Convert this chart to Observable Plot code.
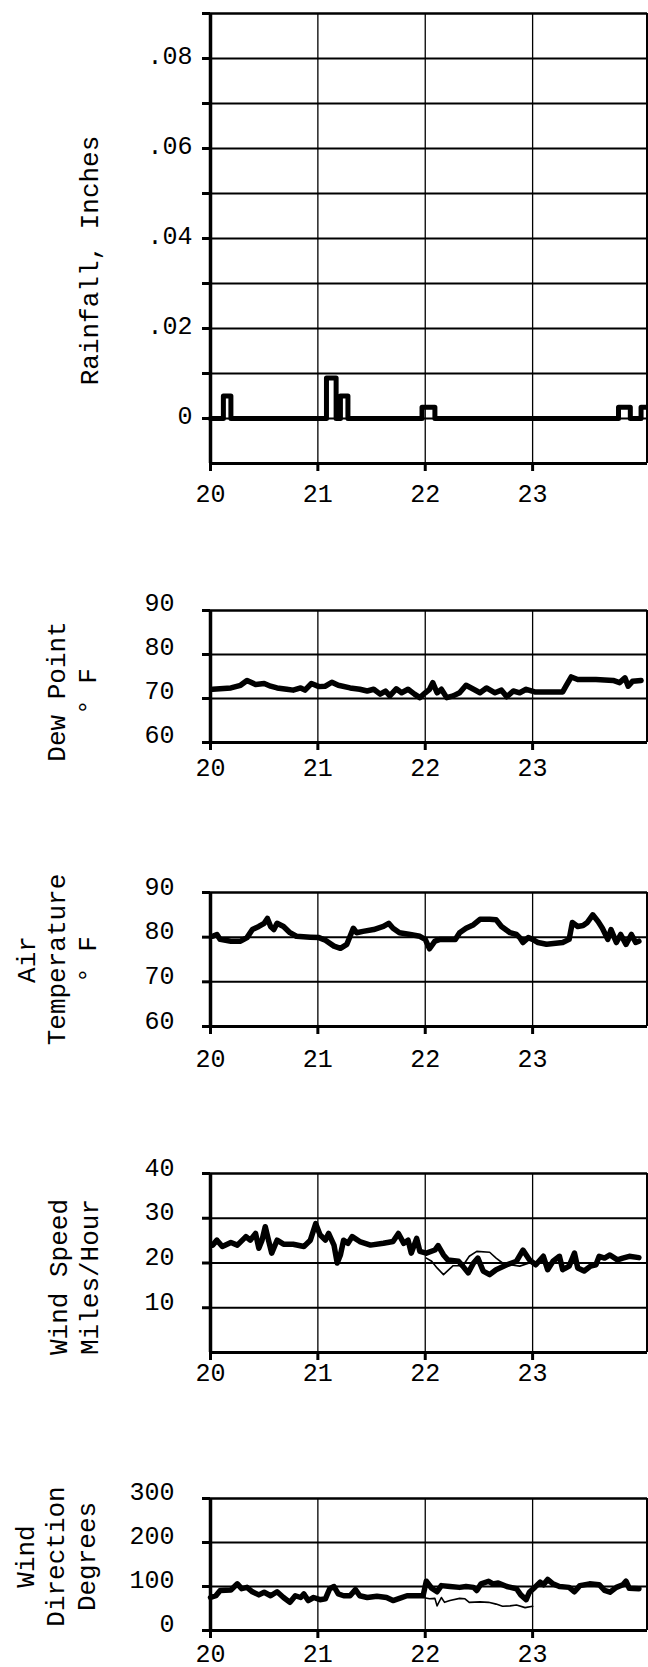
<!DOCTYPE html>
<html><head><meta charset="utf-8">
<script src="https://cdn.jsdelivr.net/npm/d3@7"></script>
<script src="https://cdn.jsdelivr.net/npm/@observablehq/plot@0.6"></script>
<style>
body{margin:0;background:#fff;}
#chart{width:648px;height:1667px;background:#fff;}
#chart svg{display:block;}
</style></head><body><div id="chart"></div>
<script>
// ---- shared x axis (days) ----
const dayTicks = [20, 21, 22, 23];
const dayGrid = [21, 22, 23];
const xDomain = [20, 24.07];

// ---- Rainfall, inches (step trace) ----
const rainDay   = [20.00, 20.12, 20.19, 21.08, 21.17, 21.21, 21.28, 21.97, 22.09, 23.80, 23.91, 24.01, 24.07];
const rainValue = [0, 0.005, 0, 0.009, 0, 0.005, 0, 0.0025, 0, 0.0025, 0, 0.0025, 0.0025];
const rainTicks = [0, 0.01, 0.02, 0.03, 0.04, 0.05, 0.06, 0.07, 0.08, 0.09];
const rainLabelTicks = [0, 0.02, 0.04, 0.06, 0.08];
const rainTickLabels = ["0", ".02", ".04", ".06", ".08"];
const rainGrid = [0, 0.01, 0.02, 0.03, 0.04, 0.05, 0.06, 0.07, 0.08];

// ---- Dew point, F ----
const dewDay = [20.02,20.19,20.28,20.34,20.42,20.50,20.56,20.62,20.71,20.77,20.84,20.88,20.94,21.01,21.07,21.13,21.19,21.30,21.39,21.46,21.52,21.58,21.63,21.67,21.73,21.78,21.84,21.90,21.95,22.00,22.04,22.07,22.11,22.15,22.20,22.26,22.32,22.38,22.45,22.51,22.57,22.65,22.71,22.76,22.82,22.88,22.94,23.02,23.10,23.28,23.31,23.36,23.42,23.59,23.75,23.81,23.86,23.89,23.93,24.01];
const dewValue = [72.1,72.4,73.0,74.1,73.2,73.4,72.8,72.4,72.1,71.9,72.4,71.9,73.4,72.7,72.8,73.7,73.0,72.4,72.1,71.7,72.1,71.0,71.7,70.6,72.2,71.3,72.1,71.0,70.2,71.3,72.1,73.6,71.3,72.1,70.2,70.6,71.3,73.0,72.1,71.3,72.4,71.3,71.9,70.4,71.7,71.3,72.1,71.5,71.5,71.5,72.8,74.9,74.3,74.3,74.1,73.6,74.7,72.8,73.9,74.1];
const dewTicks = [60, 70, 80, 90];
const dewGrid = [70, 80];

// ---- Air temperature, F ----
const airDay = [20.02,20.06,20.09,20.19,20.28,20.34,20.39,20.45,20.50,20.53,20.56,20.59,20.62,20.68,20.74,20.80,20.93,21.01,21.07,21.15,21.21,21.27,21.33,21.36,21.42,21.52,21.61,21.66,21.70,21.76,21.86,21.95,22.00,22.04,22.09,22.14,22.28,22.32,22.38,22.45,22.51,22.60,22.66,22.71,22.79,22.85,22.88,22.91,22.96,23.00,23.05,23.13,23.28,23.34,23.37,23.42,23.47,23.51,23.56,23.61,23.65,23.70,23.73,23.78,23.82,23.87,23.92,23.96,23.99];
const airValue = [80.2,80.6,79.5,79.1,79.1,79.9,81.7,82.4,83.1,84.2,82.4,81.7,83.1,82.4,81.0,80.2,80.0,79.9,79.3,78.0,77.5,78.4,82.0,81.0,81.3,81.7,82.4,83.1,82.0,81.0,80.6,80.2,79.5,77.4,79.1,79.5,79.5,81.0,82.0,82.8,84.0,84.0,83.9,82.4,81.0,80.6,79.9,78.8,79.9,79.5,78.8,78.4,78.8,79.5,83.3,82.4,82.6,83.3,85.0,83.5,82.0,79.5,81.7,78.8,80.6,78.4,80.6,78.8,79.1];
const airTicks = [60, 70, 80, 90];
const airGrid = [70, 80];

// ---- Wind speed, miles/hour (thick = main record, thin = second record) ----
const speedDay = [20.02,20.06,20.11,20.19,20.25,20.33,20.37,20.42,20.45,20.48,20.51,20.54,20.57,20.62,20.68,20.77,20.87,20.93,20.98,21.02,21.07,21.10,21.15,21.18,21.21,21.24,21.28,21.32,21.39,21.49,21.61,21.70,21.75,21.80,21.84,21.87,21.92,21.95,22.01,22.09,22.12,22.17,22.21,22.31,22.35,22.40,22.45,22.49,22.54,22.60,22.66,22.76,22.85,22.91,22.97,23.03,23.10,23.14,23.19,23.25,23.28,23.34,23.39,23.42,23.48,23.54,23.59,23.62,23.67,23.72,23.79,23.84,23.90,23.99];
const speedValue = [24.0,25.1,23.7,24.6,24.0,25.9,25.1,26.6,23.3,25.1,28.1,25.1,22.2,25.1,24.2,24.2,23.7,25.1,28.8,26.3,25.1,26.6,24.0,20.0,21.8,25.1,24.4,25.9,24.8,24.0,24.4,24.8,26.6,24.4,25.1,22.2,25.5,22.6,22.2,22.9,23.9,21.8,20.7,20.4,19.3,17.8,20.0,21.1,18.2,17.4,18.5,19.6,20.4,22.9,20.7,19.6,21.5,18.5,20.4,21.5,18.5,19.3,22.2,18.9,18.2,19.3,19.6,21.5,21.1,21.8,20.7,21.1,21.5,21.2];
const speed2Day = [22.01,22.06,22.11,22.17,22.21,22.26,22.35,22.41,22.48,22.60,22.66,22.72,22.79,22.88,22.97];
const speed2Value = [21.1,20.4,18.9,17.4,18.3,19.4,19.4,21.5,22.6,22.4,21.1,20.0,19.6,19.3,20.0];
const speedTicks = [10, 20, 30, 40];
const speedGrid = [10, 20, 30];

// ---- Wind direction, degrees ----
const dirDay = [20.00,20.05,20.09,20.19,20.25,20.29,20.34,20.39,20.45,20.50,20.56,20.62,20.68,20.74,20.79,20.84,20.87,20.91,20.96,21.02,21.07,21.11,21.15,21.19,21.24,21.30,21.35,21.39,21.46,21.55,21.64,21.70,21.76,21.83,21.92,21.98,22.01,22.06,22.11,22.15,22.23,22.32,22.38,22.45,22.48,22.52,22.59,22.63,22.68,22.76,22.85,22.89,22.94,22.97,23.02,23.07,23.10,23.14,23.19,23.25,23.34,23.39,23.44,23.53,23.62,23.67,23.72,23.78,23.84,23.87,23.90,23.99];
const dirValue = [75,79,91,92,106,95,98,88,81,87,79,88,75,64,79,75,83,68,75,70,72,95,100,83,79,79,93,79,75,78,75,68,73,79,79,79,112,96,88,102,100,98,100,98,91,106,112,106,108,100,95,81,70,87,98,110,104,116,106,100,98,88,102,106,104,91,87,98,104,112,96,95];
const dir2Day = [21.98,22.04,22.09,22.11,22.15,22.18,22.23,22.32,22.37,22.41,22.51,22.59,22.66,22.72,22.79,22.85,22.93,23.00];
const dir2Value = [75,72,73,56,75,64,68,73,72,64,65,64,60,55,56,58,52,55];
const dirTicks = [0, 100, 200, 300];
const dirGrid = [100, 200];

// ---- helpers ----
const zip = (xs, ys) => xs.map((x, i) => ({day: x, value: ys[i]}));
const FONT = "Liberation Mono, DejaVu Sans Mono, monospace";

function panel(cfg) {
  const labelTicks = cfg.labelTicks || cfg.ticks;
  const labelOf = new Map(labelTicks.map((t, i) => [t, cfg.tickLabels ? cfg.tickLabels[i] : String(t)]));
  const [y0, y1] = cfg.yDomain;
  const marks = [
    Plot.ruleY(cfg.grid, {strokeWidth: 2, stroke: "black"}),
    Plot.ruleX(dayGrid, {strokeWidth: 1.3, stroke: "black"}),
    Plot.ruleY([y1], {strokeWidth: 2.5, stroke: "black"}),
    Plot.ruleY([y0], {strokeWidth: 3, stroke: "black"}),
    Plot.ruleX([xDomain[1]], {strokeWidth: 3, stroke: "black"}),
    Plot.ruleX([xDomain[0]], {strokeWidth: 3.5, stroke: "black"}),
    // tick stubs on the y axis
    Plot.axisY({ticks: cfg.ticks, tickSize: 8, strokeWidth: 3, tickFormat: () => "", label: null}),
    // tick labels on the y axis (typed slightly above their lines)
    Plot.axisY({ticks: labelTicks, tickSize: 0, tickPadding: 8 + cfg.yPad,
      tickFormat: d => labelOf.get(d), fontSize: 25, dy: cfg.yDy, label: null}),
    Plot.axisX({ticks: dayTicks, tickSize: 8, tickPadding: cfg.xPad, strokeWidth: 3,
      tickFormat: d => String(d), fontSize: 25, label: null}),
    ...cfg.series.map(s => Plot.line(s.data, {x: "day", y: "value", stroke: "black",
      strokeWidth: s.width, curve: s.curve || "linear", strokeLinejoin: "round", strokeLinecap: "round"})),
    Plot.text([cfg.title], {text: d => d, frameAnchor: "left", dx: cfg.titleX - 210, dy: cfg.titleDy,
      rotate: -90, textAnchor: "middle", lineAnchor: "middle", fontSize: 26, lineHeight: 1.18})
  ];
  return Plot.plot({
    width: 648, height: cfg.height,
    marginLeft: 210, marginRight: 1, marginTop: cfg.mt, marginBottom: cfg.mb,
    style: {fontFamily: FONT, background: "white", color: "black", overflow: "visible"},
    x: {domain: xDomain},
    y: {domain: cfg.yDomain},
    marks
  });
}

const panels = [
  {height: 540, mt: 13, mb: 77, yDomain: [-0.01, 0.09], ticks: rainTicks, labelTicks: rainLabelTicks,
   tickLabels: rainTickLabels, grid: rainGrid, yPad: 10, yDy: -3, xPad: 13,
   title: "Rainfall, Inches", titleX: 88, titleDy: 22,
   series: [{data: zip(rainDay, rainValue), width: 5, curve: "step-after"}]},
  {height: 300, mt: 70, mb: 98, yDomain: [60, 90], ticks: dewTicks, grid: dewGrid, yPad: 28, yDy: -8, xPad: 8,
   title: "Dew Point\n° F", titleX: 70, titleDy: 15,
   series: [{data: zip(dewDay, dewValue), width: 5.5}]},
  {height: 290, mt: 52, mb: 104, yDomain: [60, 90], ticks: airTicks, grid: airGrid, yPad: 28, yDy: -6, xPad: 15,
   title: "Air\nTemperature\n° F", titleX: 55, titleDy: 0,
   series: [{data: zip(airDay, airValue), width: 5.5}]},
  {height: 310, mt: 43, mb: 88, yDomain: [0, 40], ticks: speedTicks, grid: speedGrid, yPad: 28, yDy: -6, xPad: 3,
   title: "Wind Speed\nMiles/Hour", titleX: 72, titleDy: 14,
   series: [{data: zip(speed2Day, speed2Value), width: 1.6}, {data: zip(speedDay, speedValue), width: 5.5}]},
  {height: 227, mt: 58, mb: 37, yDomain: [0, 300], ticks: dirTicks, grid: dirGrid, yPad: 28, yDy: -7, xPad: 6,
   title: "Wind\nDirection\nDegrees", titleX: 54, titleDy: -8,
   series: [{data: zip(dir2Day, dir2Value), width: 1.6}, {data: zip(dirDay, dirValue), width: 5.5}]}
];

const root = document.getElementById("chart");
for (const p of panels) root.appendChild(panel(p));
</script>
</body></html>
